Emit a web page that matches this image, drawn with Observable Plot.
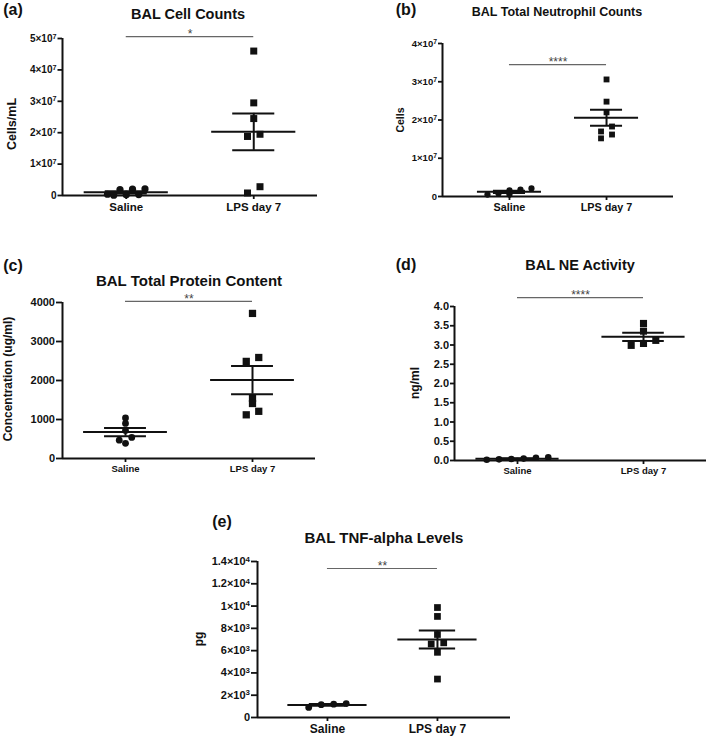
<!DOCTYPE html>
<html><head><meta charset="utf-8">
<script src="https://cdn.jsdelivr.net/npm/d3@7"></script>
<script src="https://cdn.jsdelivr.net/npm/@observablehq/plot@0.6"></script>
<style>
body{margin:0;background:#fff;}
#fig{position:relative;width:709px;height:737px;overflow:hidden;font-family:Arial,"Liberation Sans",sans-serif;color:#111;}
.c{position:absolute;white-space:nowrap;font-weight:bold;line-height:1;transform:translate(-50%,-50%);}
.r{position:absolute;white-space:nowrap;font-weight:bold;line-height:1;transform:translate(-50%,-50%) rotate(-90deg);}
.panel{position:absolute;}
</style></head><body><div id="fig"></div>
<script>
// ---------- DATA ----------
const groups = ["Saline", "LPS day 7"];
const panelLabels = ["(a)", "(b)", "(c)", "(d)", "(e)"];
const titles = ["BAL Cell Counts", "BAL Total Neutrophil Counts", "BAL Total Protein Content", "BAL NE Activity", "BAL TNF-alpha Levels"];
const yLabels = ["Cells/mL", "Cells", "Concentration (ug/ml)", "ng/ml", "pg"];

const cellSaline = [2.1e6, 2.0e6, 1.9e6, 0.4e6, 0.3e6, 0.2e6, 0.1e6];
const cellLPS = [4.6e7, 2.95e7, 2.45e7, 1.95e7, 1.88e7, 0.28e7, 0.08e7];
const cellTicks = [0, 1e7, 2e7, 3e7, 4e7, 5e7];
const cellTickLabels = ["0", "1×10⁷", "2×10⁷", "3×10⁷", "4×10⁷", "5×10⁷"];

const neutSaline = [0.21e7, 0.18e7, 0.16e7, 0.08e7, 0.05e7, 0.05e7];
const neutLPS = [3.06e7, 2.48e7, 2.2e7, 1.83e7, 1.7e7, 1.62e7, 1.52e7];
const neutTicks = [0, 1e7, 2e7, 3e7, 4e7];
const neutTickLabels = ["0", "1×10⁷", "2×10⁷", "3×10⁷", "4×10⁷"];

const protSaline = [1040, 900, 720, 540, 470, 390];
const protLPS = [3720, 2590, 2490, 1540, 1410, 1210, 1120];
const protTicks = [0, 1000, 2000, 3000, 4000];
const protTickLabels = ["0", "1000", "2000", "3000", "4000"];

const neSaline = [0.08, 0.07, 0.05, 0.04, 0.03, 0.02];
const neLPS = [3.56, 3.36, 3.12, 3.04, 2.99];
const neTicks = [0, 0.5, 1, 1.5, 2, 2.5, 3, 3.5, 4];
const neTickLabels = ["0.0", "0.5", "1.0", "1.5", "2.0", "2.5", "3.0", "3.5", "4.0"];

const tnfSaline = [900, 1150, 1250, 1200];
const tnfLPS = [9870, 9070, 7450, 6700, 6600, 5850, 3450];
const tnfTicks = [0, 2000, 4000, 6000, 8000, 10000, 12000, 14000];
const tnfTickLabels = ["0", "2×10³", "4×10³", "6×10³", "8×10³", "1×10⁴", "1.2×10⁴", "1.4×10⁴"];

const sigLabels = ["*", "****", "**", "****", "**"];
const sigLevels = [5.06e7, 3.45e7, 4030, 4.23, 13370];

// ---------- LAYOUT / STYLE ----------
const layout = [
  {box:[0,0,345,225], frame:[62,38,317,195], xdom:[-0.5,1.5], yTick:10, xTick:11.5, tick:4.5, sqR:3.95, circR:3.6, spacing:12.5, bin:7, maxCols:4, meanHalf:0.33, semHalf:0.165,
   label:[13,10,16], title:[188,14,14.5], ylab:[12,124,12.5]},
  {box:[355,0,354,225], frame:[442,43,673,196], xdom:[-0.69,1.69], yTick:9.5, xTick:10.8, tick:4, sqR:3.3, circR:3.1, spacing:11, bin:7, maxCols:5, meanHalf:0.33, semHalf:0.165,
   label:[406,10,16], title:[557,12,12.5], ylab:[400,120,10.5]},
  {box:[0,225,345,260], frame:[62,302,315,458], xdom:[-0.496,1.496], yTick:11, xTick:9.5, tick:6, sqR:4.1, circR:3.4, spacing:12.5, bin:5, maxCols:5, meanHalf:0.33, semHalf:0.165,
   label:[13,266,16], title:[189,280,15], ylab:[8,379,12]},
  {box:[355,225,354,260], frame:[454,306,706,460], xdom:[-0.5,1.5], yTick:11, xTick:9.5, tick:4, sqR:4.0, circR:3.3, spacing:12.3, bin:6, maxCols:6, meanHalf:0.33, semHalf:0.165,
   label:[406,265,16], title:[580,265,14.5], ylab:[415,383,12]},
  {box:[180,485,360,252], frame:[257,561,510,717], xdom:[-0.636,1.664], yTick:11, xTick:12, tick:6, sqR:3.8, circR:3.4, spacing:12.5, bin:6, maxCols:5, meanHalf:0.36, semHalf:0.165,
   label:[222,522,16], title:[384,537,15], ylab:[199,639,12]}
];

const fig = document.getElementById("fig");
const SUP = "⁰¹²³⁴⁵⁶⁷⁸⁹";

function addText(cls, x, y, size, txt) {
  const d = document.createElement("div");
  d.className = cls;
  d.style.left = x + "px"; d.style.top = y + "px"; d.style.fontSize = size + "px";
  d.textContent = txt;
  fig.appendChild(d);
}

function swarm(vals, gx, L, yToPx, unitPx) {
  const sorted = vals.slice().sort((a, b) => b - a);
  const bins = [];
  let cur = null;
  for (const v of sorted) {
    if (cur && yToPx(v) - yToPx(cur[0]) < L.bin) cur.push(v);
    else { cur = [v]; bins.push(cur); }
  }
  const out = [];
  for (const bin of bins) {
    for (let s = 0; s < bin.length; s += L.maxCols) {
      const row = bin.slice(s, s + L.maxCols).sort((a, b) => a - b);
      row.forEach((v, j) => out.push({x: gx + (j - (row.length - 1) / 2) * L.spacing / unitPx, y: v}));
    }
  }
  return out;
}

// render unicode superscripts as raised tspans
function fixSuperscripts(svg) {
  d3.select(svg).selectAll("text").each(function() {
    const t = this.textContent;
    const m = t.match(/^(.*?)([⁰¹²³⁴⁵⁶⁷⁸⁹]+)$/);
    if (!m) return;
    const base = m[1], sup = [...m[2]].map(ch => SUP.indexOf(ch)).join("");
    const sel = d3.select(this);
    sel.text(null);
    sel.append("tspan").text(base);
    sel.append("tspan").attr("dy", "-0.42em").attr("font-size", "0.72em").text(sup);
  });
}

function makePanel(i, saline, lps, ticks, tickLabels) {
  const L = layout[i];
  const [bx, by, bw, bh] = L.box;
  const [fl, ft, fr, fb] = L.frame;
  const ymax = ticks[ticks.length - 1];
  const yToPx = v => fb - v / ymax * (fb - ft);
  const unitPx = (fr - fl) / (L.xdom[1] - L.xdom[0]);
  const salPts = swarm(saline, 0, L, yToPx, unitPx);
  const lpsPts = swarm(lps, 1, L, yToPx, unitPx);
  const stats = [saline, lps].map((vals, g) => ({
    x: g, mean: d3.mean(vals), sem: d3.deviation(vals) / Math.sqrt(vals.length)
  }));
  const chart = Plot.plot({
    width: bw, height: bh,
    marginLeft: fl - bx, marginRight: bx + bw - fr, marginTop: ft - by, marginBottom: by + bh - fb,
    x: {domain: L.xdom, axis: null},
    y: {domain: [0, ymax], axis: null},
    style: {background: "transparent", fontFamily: "Arial, 'Liberation Sans', sans-serif", fontWeight: "bold", color: "#111", overflow: "visible"},
    marks: [
      Plot.axisY({ticks: ticks, tickFormat: d => tickLabels[ticks.indexOf(d)], tickSize: L.tick, tickPadding: 1.5, strokeWidth: 1.8, fontSize: L.yTick, label: null}),
      Plot.axisX({ticks: [0, 1], tickFormat: d => groups[d], tickSize: 4, tickPadding: 3, strokeWidth: 1.8, fontSize: L.xTick, label: null}),
      Plot.ruleX([L.xdom[0]], {strokeWidth: 2, stroke: "#111"}),
      Plot.ruleY([0], {strokeWidth: 2, stroke: "#111"}),
      Plot.dot(salPts, {x: "x", y: "y", r: L.circR, symbol: "circle", fill: "#111", stroke: "none"}),
      Plot.dot(lpsPts, {x: "x", y: "y", r: L.sqR, symbol: "square", fill: "#111", stroke: "none"}),
      Plot.ruleY(stats, {y: "mean", x1: d => d.x - L.meanHalf, x2: d => d.x + L.meanHalf, strokeWidth: 2, stroke: "#111"}),
      Plot.ruleY(stats, {y: d => d.mean + d.sem, x1: d => d.x - L.semHalf, x2: d => d.x + L.semHalf, strokeWidth: 2, stroke: "#111"}),
      Plot.ruleY(stats, {y: d => d.mean - d.sem, x1: d => d.x - L.semHalf, x2: d => d.x + L.semHalf, strokeWidth: 2, stroke: "#111"}),
      Plot.ruleX(stats, {x: "x", y1: d => d.mean - d.sem, y2: d => d.mean + d.sem, strokeWidth: 2, stroke: "#111"}),
      Plot.ruleY([sigLevels[i]], {x1: () => 0, x2: () => 1, stroke: "#666", strokeWidth: 1.2}),
      Plot.text([sigLabels[i]], {x: () => 0.5, y: () => sigLevels[i], text: d => d, dy: -2, fontSize: 12, fontWeight: "normal", fill: "#444"})
    ]
  });
  fixSuperscripts(chart);
  const wrap = document.createElement("div");
  wrap.className = "panel";
  wrap.style.left = bx + "px"; wrap.style.top = by + "px";
  wrap.style.width = bw + "px"; wrap.style.height = bh + "px";
  wrap.appendChild(chart);
  fig.appendChild(wrap);
  addText("c", L.label[0], L.label[1], L.label[2], panelLabels[i]);
  addText("c", L.title[0], L.title[1], L.title[2], titles[i]);
  addText("r", L.ylab[0], L.ylab[1], L.ylab[2], yLabels[i]);
}

makePanel(0, cellSaline, cellLPS, cellTicks, cellTickLabels);
makePanel(1, neutSaline, neutLPS, neutTicks, neutTickLabels);
makePanel(2, protSaline, protLPS, protTicks, protTickLabels);
makePanel(3, neSaline, neLPS, neTicks, neTickLabels);
makePanel(4, tnfSaline, tnfLPS, tnfTicks, tnfTickLabels);
</script>
</body></html>
